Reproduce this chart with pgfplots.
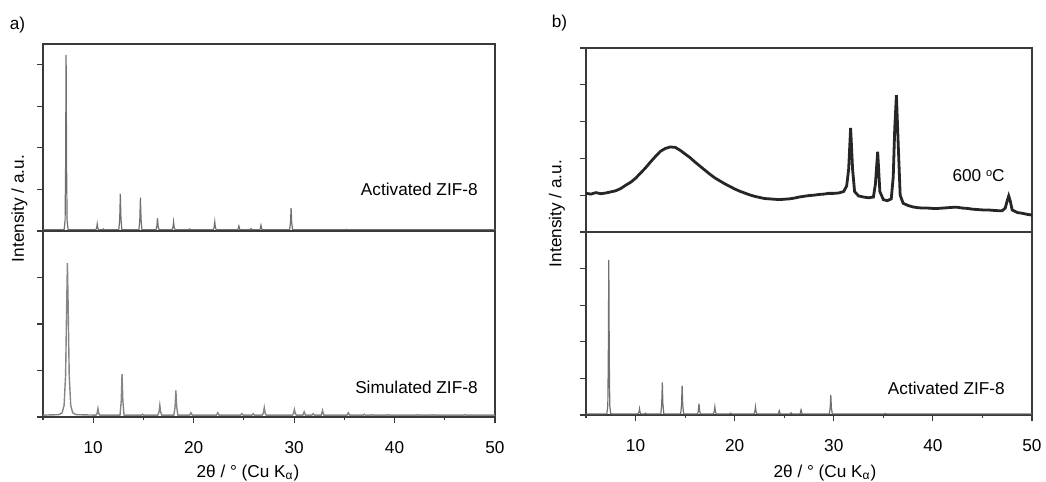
\documentclass[border=0pt]{standalone}
\usepackage{fontspec}
\setmainfont{Liberation Sans}
\usepackage{pgfplots}
\usepackage{pgfplotstable}
\pgfplotsset{compat=1.18}
\definecolor{peak}{HTML}{707070}
\definecolor{frame}{HTML}{3A3A3A}
\newcommand\fs{\fontsize{8.6pt}{10pt}\selectfont}

\pgfplotstableread{
x y
5 0.03
7.10 0.03
7.20 0.25
7.25 1.5
7.30 4.24
7.35 1.5
7.40 0.25
7.50 0.03
10.25 0.03
10.34 0.07
10.40 0.17
10.46 0.07
10.55 0.03
10.9 0.03
11.0 0.05
11.1 0.03
12.55 0.03
12.64 0.3
12.70 0.89
12.76 0.3
12.85 0.03
14.55 0.03
14.64 0.28
14.70 0.80
14.76 0.28
14.85 0.03
16.25 0.03
16.34 0.12
16.40 0.31
16.46 0.12
16.55 0.03
17.85 0.03
17.94 0.09
18.00 0.22
18.06 0.09
18.15 0.03
19.5 0.03
19.6 0.05
19.7 0.03
21.95 0.03
22.04 0.09
22.10 0.22
22.16 0.09
22.25 0.03
24.4 0.03
24.5 0.12
24.6 0.03
25.6 0.03
25.7 0.06
25.8 0.03
26.6 0.03
26.7 0.14
26.8 0.03
29.55 0.03
29.64 0.2
29.70 0.55
29.76 0.2
29.85 0.03
35.1 0.03
35.2 0.04
35.3 0.03
50 0.03
}\activated

\pgfplotstableread{
x y
5 0.04
6.6 0.05
6.9 0.09
7.1 0.25
7.25 0.9
7.35 2.3
7.43 3.31
7.51 2.3
7.61 0.9
7.76 0.25
7.96 0.09
8.3 0.05
10.27 0.04
10.39 0.08
10.47 0.18
10.55 0.08
10.67 0.04
12.67 0.04
12.79 0.35
12.87 0.92
12.95 0.35
13.07 0.04
14.8 0.04
14.9 0.06
15.0 0.04
16.43 0.04
16.55 0.11
16.63 0.25
16.71 0.11
16.83 0.04
18.03 0.04
18.15 0.22
18.23 0.57
18.31 0.22
18.43 0.04
19.6 0.04
19.73 0.09
19.86 0.04
22.27 0.04
22.4 0.09
22.53 0.04
24.67 0.04
24.8 0.07
24.93 0.04
25.8 0.04
25.93 0.07
26.06 0.04
26.83 0.04
26.95 0.09
27.03 0.2
27.11 0.09
27.23 0.04
29.83 0.04
29.95 0.08
30.03 0.16
30.11 0.08
30.23 0.04
30.87 0.04
31.0 0.11
31.13 0.04
31.77 0.04
31.9 0.07
32.03 0.04
32.7 0.04
32.83 0.14
32.96 0.04
35.27 0.04
35.4 0.09
35.53 0.04
36.9 0.04
37.0 0.06
37.1 0.04
37.63 0.04
37.73 0.05
37.83 0.04
39.23 0.04
39.33 0.05
39.43 0.04
42.23 0.04
42.33 0.05
42.43 0.04
43.63 0.04
43.73 0.05
43.83 0.04
46.9 0.04
47.0 0.05
47.1 0.04
50 0.04
}\simulated

\pgfplotstableread{
x y
5.0 1.05
5.5 1.03
6.0 1.07
6.5 1.04
7.0 1.06
7.5 1.09
8.0 1.12
8.5 1.18
9.0 1.27
9.5 1.35
10.0 1.46
10.5 1.60
11.0 1.74
11.5 1.90
12.0 2.05
12.5 2.19
13.0 2.27
13.5 2.31
14.0 2.30
14.5 2.22
15.0 2.12
15.5 2.02
16.0 1.90
16.5 1.79
17.0 1.68
17.5 1.57
18.0 1.47
18.5 1.39
19.0 1.31
19.5 1.24
20.0 1.17
20.5 1.11
21.0 1.06
21.5 1.01
22.0 0.97
22.5 0.94
23.0 0.91
23.5 0.90
24.0 0.89
24.5 0.88
25.0 0.89
25.5 0.90
26.0 0.92
26.5 0.95
27.0 0.97
27.5 0.99
28.0 1.00
28.5 1.02
29.0 1.03
29.5 1.05
30.0 1.05
30.5 1.06
31.0 1.10
31.3 1.25
31.5 1.7
31.7 2.83
31.9 1.7
32.1 1.1
32.5 0.98
33.0 0.95
33.5 0.93
34.0 0.95
34.2 1.3
34.43 2.18
34.65 1.1
35.0 0.88
35.4 0.85
35.8 0.90
36.0 1.5
36.15 2.8
36.32 3.72
36.5 2.4
36.7 1.0
37.0 0.78
37.5 0.72
38.0 0.68
38.5 0.66
39.0 0.65
39.5 0.65
40.0 0.64
40.5 0.64
41.0 0.65
41.5 0.66
42.0 0.67
42.5 0.67
43.0 0.65
43.5 0.64
44.0 0.62
44.5 0.61
45.0 0.60
45.5 0.60
46.0 0.59
46.5 0.58
47.0 0.58
47.3 0.65
47.5 0.85
47.65 0.98
47.8 0.85
48.0 0.60
48.5 0.53
49.0 0.51
49.5 0.48
50.0 0.46
}\annealed

\pgfplotsset{
  every axis/.append style={
    scale only axis,
    xmin=5, xmax=50,
    axis line style={draw=frame, line width=0.7pt},
    tick style={draw=frame, line width=0.6pt},
    tick align=outside,
    major tick length=3pt,
    minor tick length=1.6pt,
    yticklabels={},
    ytick pos=left,
    clip=true,
  },
  toppanel/.style={xtick=\empty},
  botpanel/.style={
    xtick={10,20,30,40,50},
    minor xtick={5,15,25,35,45},
    xtick pos=bottom,
    /pgf/number format/assume math mode=true,
    xticklabel style={font=\fs, yshift=-5.5pt},
  },
}

\begin{document}
\begin{tikzpicture}
\path[use as bounding box] (0pt,0pt) rectangle (523pt,241pt);

% ---- panel a ----
\begin{axis}[toppanel, at={(21.5pt,125.5pt)}, anchor=south west,
  width=226pt, height=93.5pt, ymin=0, ymax=4.5, ytick={0,1,2,3,4}]
  \addplot[peak, line width=0.6pt, no marks] table[x=x,y=y] {\activated};
\end{axis}
\begin{axis}[botpanel, at={(21.5pt,32.5pt)}, anchor=south west,
  width=226pt, height=93pt, ymin=0, ymax=4, ytick={0,1,2,3}]
  \addplot[peak!85, line width=0.7pt, no marks] table[x=x,y=y] {\simulated};
\end{axis}

% ---- panel b ----
\begin{axis}[toppanel, at={(293pt,125pt)}, anchor=south west,
  width=223pt, height=92pt, ymin=0, ymax=5, ytick={0,1,2,3,4,5}]
  \addplot[black!85, line width=1.4pt, no marks] table[x=x,y=y] {\annealed};
\end{axis}
\begin{axis}[botpanel, at={(293pt,33.5pt)}, anchor=south west,
  width=223pt, height=91.5pt, ymin=0, ymax=5, ytick={0,1,2,3,4}]
  \addplot[peak, line width=0.6pt, no marks] table[x=x,y=y] {\activated};
\end{axis}

% ---- labels ----
\node[font=\fs] at (8.75pt,228.5pt) {a)};
\node[font=\fs] at (279.75pt,229.25pt) {b)};
\node[font=\fs, anchor=east, inner sep=0pt] at (239pt,146.5pt) {Activated ZIF-8};
\node[font=\fs, anchor=east, inner sep=0pt] at (239pt,47.5pt) {Simulated ZIF-8};
\node[font=\fs, anchor=east, inner sep=0pt] at (502.5pt,153pt) {600 \raisebox{0.55ex}{\fontsize{5.5pt}{6pt}\selectfont o}C};
\node[font=\fs, anchor=east, inner sep=0pt] at (502.5pt,47pt) {Activated ZIF-8};
\node[font=\fs, anchor=base] at (124pt,2pt) {2θ / ° (Cu K\textsubscript{α})};
\node[font=\fs, anchor=base] at (412.5pt,2pt) {2θ / ° (Cu K\textsubscript{α})};
\node[font=\fs, rotate=90] at (9.75pt,136.75pt) {Intensity / a.u.};
\node[font=\fs, rotate=90] at (278.5pt,134.25pt) {Intensity / a.u.};
\end{tikzpicture}
\end{document}
